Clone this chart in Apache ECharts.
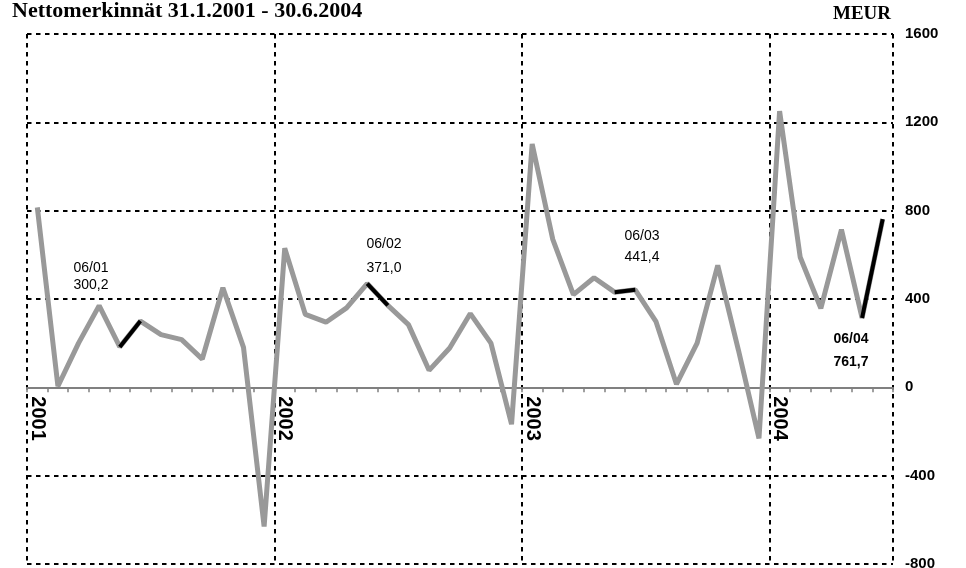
<!DOCTYPE html>
<html lang="fi" style="height: 100%">
<head>
  <meta charset="utf-8">
  <title>Nettomerkinnät</title>
  <script type="text/javascript" src="https://fastly.jsdelivr.net/npm/echarts@6/dist/echarts.min.js"></script>
</head>
<body style="height: 100%; margin: 0; background: #fff">
  <div id="chart" style="width: 966px; height: 568px"></div>

  <script type="text/javascript">
    var dom = document.getElementById('chart');
    var myChart = echarts.init(dom);

    let years = ['2001', '2002', '2003', '2004'];
    let monthNums = ['01', '02', '03', '04', '05', '06', '07', '08', '09', '10', '11', '12'];

    // monthly net subscriptions, MEUR
    let values = [
      815, 5, 200, 370, 183, 300.2, 239, 216, 128, 451, 181, -630,
      630, 330, 295, 360, 470, 371.0, 284, 77, 178, 334, 200, -167,
      1102, 670, 420, 496, 431, 441.4, 299, 14, 200, 552, 170, -231,
      1251, 589, 358, 714, 314, 761.7
    ];

    let yMin = -800, yMax = 1600, yStep = 400;

    let months = [];
    years.forEach(y => monthNums.forEach(m => months.push(y + '-' + m)));
    months = months.slice(0, values.length);

    // May -> June segment drawn in black each year
    let highlight = values.map((v, i) => {
      let m = months[i].slice(5);
      return (m === '05' || m === '06') ? v : null;
    });

    let fmt = v => v.toFixed(1).replace('.', ',');
    let junes = months.map((c, i) => [c, values[i]]).filter(d => d[0].slice(5) === '06');

    // label spots for the June notes
    let notePos = [[91, 268, 285], [384, 244, 268], [642, 236, 257], [851, 339, 362]];

    let graphics = [];
    junes.forEach((d, k) => {
      let p = notePos[k];
      let bold = k === junes.length - 1 ? 'bold' : 'normal';
      let label = d[0].slice(5) + '/' + d[0].slice(2, 4);
      [[label, p[1]], [fmt(d[1]), p[2]]].forEach(t => {
        graphics.push({
          type: 'text', x: p[0], y: t[1],
          style: {
            text: t[0], fill: '#000', align: 'center', verticalAlign: 'middle',
            font: bold + ' 14px "Liberation Sans", Arial, sans-serif'
          }
        });
      });
    });

    let dotted = { color: '#000', width: 2, type: [4.5, 4.5] };

    let gridTop = 34, gridBottom = 4, chartH = 568;
    let plotH = chartH - gridTop - gridBottom;
    // lift the month axis from the bottom edge up to the zero line
    let zeroOffset = -plotH * (0 - yMin) / (yMax - yMin);

    let option = {
      animation: false,
      title: [
        {
          text: 'Nettomerkinnät 31.1.2001 - 30.6.2004',
          left: 12, top: 0, padding: 0,
          textStyle: { fontFamily: 'Liberation Serif', fontWeight: 'bold', fontSize: 22, color: '#000' }
        },
        {
          text: 'MEUR',
          left: 833, top: 5, padding: 0,
          textStyle: { fontFamily: 'Liberation Serif', fontWeight: 'bold', fontSize: 19, color: '#000' }
        }
      ],
      grid: { left: 27, right: 73, top: gridTop, bottom: gridBottom, containLabel: false, outerBoundsMode: 'none' },
      xAxis: {
        type: 'category',
        data: months,
        boundaryGap: true,
        position: 'bottom',
        offset: zeroOffset,
        z: 5,
        axisLine: { onZero: false, lineStyle: { color: '#808080', width: 2 } },
        axisTick: { show: true, interval: 0, length: 5, lineStyle: { color: '#808080', width: 1.5 } },
        axisLabel: {
          interval: (i) => i % 12 === 0,
          formatter: (v) => v.slice(0, 4),
          rotate: -90,
          margin: 9,
          fontFamily: 'Liberation Sans',
          fontWeight: 'bold',
          fontSize: 20,
          color: '#000'
        },
        splitLine: { show: true, interval: (i) => i % 12 === 0, lineStyle: dotted }
      },
      yAxis: {
        type: 'value',
        position: 'right',
        min: yMin,
        max: yMax,
        interval: yStep,
        axisLine: { show: false },
        axisTick: { show: false },
        axisLabel: {
          margin: 12,
          formatter: (v) => String(v),
          fontFamily: 'Liberation Sans',
          fontWeight: 'bold',
          fontSize: 15,
          color: '#000'
        },
        splitLine: { show: true, lineStyle: dotted }
      },
      series: [
        {
          name: 'Nettomerkinnät',
          type: 'line',
          data: values,
          symbol: 'none',
          z: 6,
          lineStyle: { color: '#999999', width: 5 }
        },
        {
          name: 'Kesäkuu',
          type: 'line',
          data: highlight,
          symbol: 'none',
          connectNulls: false,
          z: 7,
          lineStyle: { color: '#000', width: 4 }
        }
      ],
      graphic: graphics
    };

    myChart.setOption(option);
  </script>
</body>
</html>
